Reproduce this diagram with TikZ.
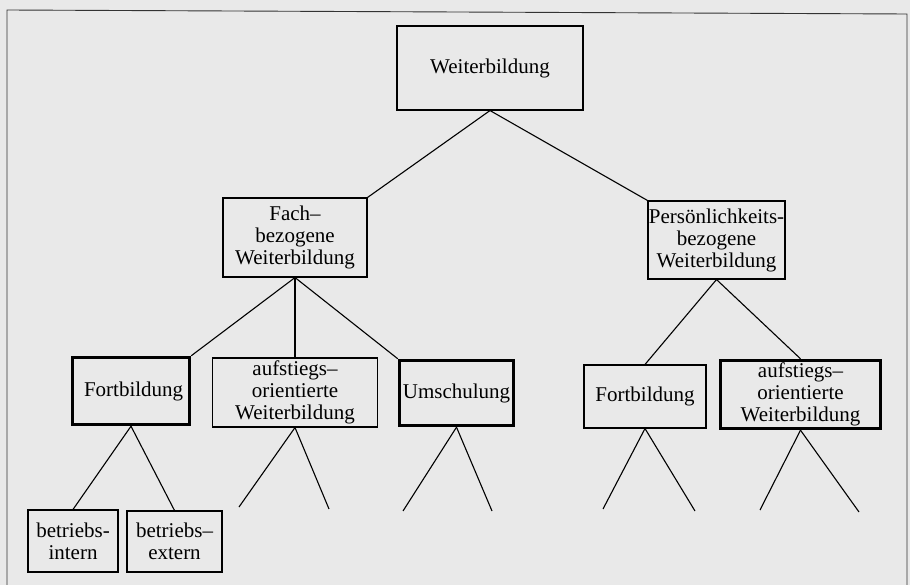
\documentclass[tikz,border=0pt]{standalone}
\usepackage{fontspec}
\setmainfont{Liberation Serif}
\usepackage{tikz}
\definecolor{paperGray}{RGB}{233,233,233}
\tikzstyle{diagram} = [x = 1pt, y = -1pt]
\tikzstyle{boxStyle} = [draw, line width = 1.1pt, inner sep = 0pt, align = center, font = \fontsize{21}{22}\selectfont]
\tikzstyle{thickBoxStyle} = [boxStyle, line width = 3.4pt]
\tikzstyle{branchLine} = [line width = 1.1pt]
\tikzstyle{frameLine} = [line width = 0.9pt, color = black!80]
% two open branches below a node
\newcommand{\openFork}[3]{
  \coordinate (#1Left) at (#2);
  \coordinate (#1Right) at (#3);
  \draw [branchLine] (#1.south) -- (#1Left);
  \draw [branchLine] (#1.south) -- (#1Right);
}
\begin{document}
\begin{tikzpicture}[diagram]
  \fill [paperGray] (0,0) rectangle (910,585);
  \useasboundingbox (0,0) rectangle (910,585);
  \draw [frameLine] (7,585) -- (7,10) -- (907,14) -- (907,585);

  % top level
  \node [boxStyle, minimum width = 186, minimum height = 84] (weiterbildung) at (490,68) {Weiterbildung};

  % second level
  \node [boxStyle, minimum width = 144, minimum height = 79] (fach) at (295,237.5) {Fach–\\bezogene\\Weiterbildung};
  \node [boxStyle, minimum width = 137, minimum height = 78] (persoenlich) at (716.5,240) {Persönlichkeits-\\bezogene\\Weiterbildung};

  % third level
  \node [thickBoxStyle, minimum width = 117, minimum height = 67] (fortFach) at (131,391) {\ Fortbildung};
  \node [boxStyle, minimum width = 165, minimum height = 69] (aufstiegFach) at (295,392.5) {aufstiegs–\\orientierte\\Weiterbildung};
  \node [thickBoxStyle, minimum width = 114, minimum height = 65] (umschulung) at (456.5,393) {Umschulung};
  \node [boxStyle, minimum width = 122, minimum height = 63] (fortPers) at (645,396.5) {Fortbildung};
  \node [thickBoxStyle, minimum width = 160, minimum height = 68] (aufstiegPers) at (800.5,394.5) {aufstiegs–\\orientierte\\Weiterbildung};

  % fourth level
  \node [boxStyle, minimum width = 90, minimum height = 62] (intern) at (73,541) {betriebs-\\intern};
  \node [boxStyle, minimum width = 95, minimum height = 61] (extern) at (174.5,541.5) {betriebs–\\extern};

  \draw [branchLine] (weiterbildung.south) -- (fach.north east);
  \draw [branchLine] (weiterbildung.south) -- (persoenlich.north west);

  \draw [branchLine] (fach.south) -- (fortFach.north east);
  \draw [branchLine] (fach.south) -- (aufstiegFach.north);
  \draw [branchLine] (fach.south) -- (umschulung.north west);
  \draw [branchLine] (persoenlich.south) -- (fortPers.north);
  \draw [branchLine] (persoenlich.south) -- (aufstiegPers.north);

  \draw [branchLine] (fortFach.south) -- (intern.north);
  \draw [branchLine] (fortFach.south) -- (extern.north);

  \openFork{aufstiegFach}{239,507}{329,509}
  \openFork{umschulung}{403,511}{492,511}
  \openFork{fortPers}{603,509}{695,511}
  \openFork{aufstiegPers}{760,510}{859,512}
\end{tikzpicture}
\end{document}
